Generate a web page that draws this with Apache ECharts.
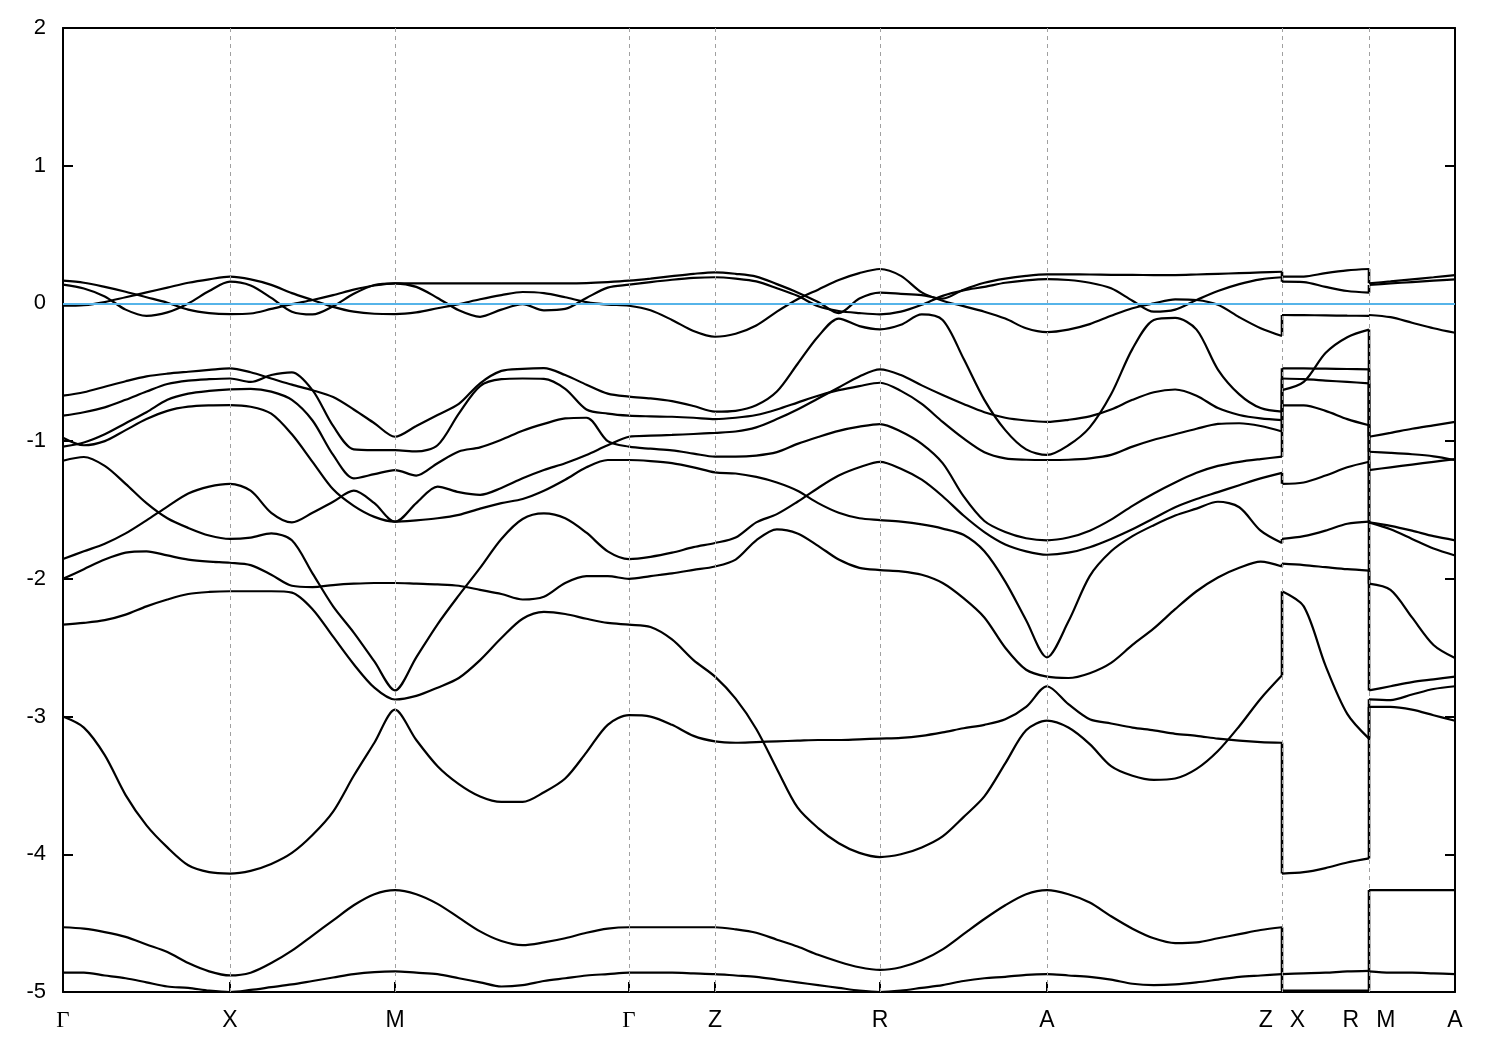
<!DOCTYPE html>
<html><head><meta charset="utf-8">
<script src="https://cdn.jsdelivr.net/npm/echarts@6/dist/echarts.min.js"></script>
<style>html,body{margin:0;padding:0;background:#fff}#chart{width:1500px;height:1050px}</style>
</head><body><div id="chart"></div>
<script>
// ---- k-path: high-symmetry points (cumulative path length, arbitrary units) ----
const kTicks = [0, 1.67, 3.32, 5.66, 6.52, 8.17, 9.84, 12.19, 13.06, 13.92];
const tickLabels = ['Γ', 'X', 'M', 'Γ', 'Z', 'R', 'A', 'Z|X', 'R|M', 'A'];
// segments: [from tick, to tick, number of k-steps, starts a new (discontinuous) branch]
const segments = [[0,1,8,false],[1,2,8,false],[2,3,11,false],[3,4,4,false],[4,5,8,false],
                  [5,6,8,false],[6,7,11,false],[7,8,4,true],[8,9,4,true]];
const fermiLevel = 0;

// ---- band energies (eV) at every k-point of the path, segment by segment ----
const band01 = [-4.86,-4.86,-4.88,-4.90,-4.93,-4.96,-4.97,-4.99,-5.0,
  -4.985,-4.965,-4.945,-4.92,-4.895,-4.87,-4.855,-4.85,
  -4.86,-4.87,-4.90,-4.93,-4.96,-4.95,-4.92,-4.90,-4.88,-4.87,-4.86,
  -4.86,-4.86,-4.865,-4.87,
  -4.88,-4.89,-4.91,-4.93,-4.95,-4.97,-4.99,-5.0,
  -4.99,-4.97,-4.95,-4.92,-4.90,-4.89,-4.875,-4.87,
  -4.88,-4.89,-4.91,-4.94,-4.95,-4.945,-4.93,-4.91,-4.89,-4.88,-4.87,
  -4.99,-4.99,-4.99,-4.99,-4.99,
  -4.85,-4.86,-4.86,-4.865,-4.87];
const band02 = [-4.53,-4.54,-4.565,-4.60,-4.655,-4.71,-4.79,-4.85,-4.88,
  -4.86,-4.79,-4.70,-4.59,-4.48,-4.37,-4.29,-4.26,
  -4.29,-4.36,-4.46,-4.56,-4.63,-4.66,-4.64,-4.61,-4.57,-4.54,-4.53,
  -4.53,-4.53,-4.53,-4.53,
  -4.545,-4.57,-4.62,-4.67,-4.73,-4.78,-4.82,-4.84,
  -4.82,-4.77,-4.69,-4.58,-4.47,-4.37,-4.29,-4.26,
  -4.29,-4.35,-4.45,-4.54,-4.61,-4.645,-4.64,-4.61,-4.58,-4.55,-4.53,
  -4.87,-4.865,-4.86,-4.85,-4.846,
  -4.26,-4.26,-4.26,-4.26,-4.26];
const band03 = [-3.0,-3.08,-3.28,-3.57,-3.79,-3.95,-4.08,-4.13,-4.14,
  -4.12,-4.07,-3.99,-3.86,-3.69,-3.43,-3.19,-2.95,
  -3.17,-3.36,-3.49,-3.58,-3.62,-3.62,-3.55,-3.45,-3.26,-3.06,-2.99,
  -3.0,-3.06,-3.14,-3.18,
  -3.19,-3.185,-3.18,-3.175,-3.17,-3.17,-3.165,-3.16,
  -3.155,-3.14,-3.115,-3.085,-3.06,-3.02,-2.93,-2.78,
  -2.91,-3.02,-3.05,-3.08,-3.10,-3.125,-3.14,-3.16,-3.175,-3.185,-3.19,
  -4.14,-4.13,-4.10,-4.06,-4.03,
  -2.93,-2.93,-2.95,-2.99,-3.03];
const band04 = [-2.333,-2.32,-2.30,-2.26,-2.20,-2.15,-2.11,-2.095,-2.09,
  -2.09,-2.09,-2.10,-2.22,-2.42,-2.62,-2.79,-2.876,
  -2.85,-2.79,-2.72,-2.59,-2.43,-2.29,-2.24,-2.255,-2.29,-2.32,-2.333,
  -2.35,-2.44,-2.59,-2.71,
  -2.87,-3.09,-3.38,-3.66,-3.81,-3.92,-3.99,-4.02,
  -4.0,-3.95,-3.87,-3.73,-3.58,-3.34,-3.10,-3.03,
  -3.08,-3.20,-3.36,-3.43,-3.46,-3.45,-3.38,-3.25,-3.07,-2.87,-2.70,
  -2.09,-2.20,-2.63,-2.98,-3.16,
  -2.875,-2.88,-2.84,-2.80,-2.78];
const band05 = [-2.0,-1.93,-1.86,-1.81,-1.80,-1.83,-1.86,-1.875,-1.883,
  -1.90,-1.97,-2.05,-2.06,-2.045,-2.035,-2.03,-2.03,
  -2.035,-2.04,-2.05,-2.08,-2.11,-2.15,-2.13,-2.03,-1.98,-1.98,-2.0,
  -1.98,-1.96,-1.935,-1.91,
  -1.86,-1.72,-1.64,-1.67,-1.76,-1.86,-1.92,-1.936,
  -1.945,-1.97,-2.03,-2.14,-2.28,-2.50,-2.66,-2.71,
  -2.72,-2.685,-2.61,-2.48,-2.36,-2.22,-2.09,-1.99,-1.92,-1.875,-1.91,
  -1.89,-1.90,-1.915,-1.93,-1.94,
  -2.81,-2.78,-2.75,-2.73,-2.71];
const band06 = [-1.856,-1.80,-1.745,-1.67,-1.575,-1.475,-1.38,-1.33,-1.31,
  -1.36,-1.52,-1.59,-1.52,-1.44,-1.36,-1.45,-1.585,
  -1.575,-1.56,-1.535,-1.49,-1.45,-1.42,-1.36,-1.28,-1.19,-1.137,-1.137,
  -1.145,-1.16,-1.19,-1.227,
  -1.235,-1.26,-1.30,-1.36,-1.45,-1.52,-1.56,-1.573,
  -1.585,-1.605,-1.635,-1.68,-1.80,-2.02,-2.30,-2.57,
  -2.31,-1.98,-1.80,-1.69,-1.61,-1.54,-1.49,-1.44,-1.48,-1.65,-1.74,
  -1.71,-1.69,-1.65,-1.60,-1.585,
  -2.035,-2.08,-2.28,-2.48,-2.575];
const band07 = [-1.142,-1.115,-1.18,-1.31,-1.45,-1.56,-1.63,-1.685,-1.71,
  -1.70,-1.67,-1.72,-1.96,-2.20,-2.39,-2.60,-2.81,
  -2.57,-2.33,-2.12,-1.92,-1.71,-1.565,-1.525,-1.56,-1.665,-1.80,-1.856,
  -1.84,-1.81,-1.77,-1.74,
  -1.70,-1.59,-1.53,-1.44,-1.34,-1.25,-1.19,-1.15,
  -1.20,-1.28,-1.40,-1.54,-1.66,-1.75,-1.80,-1.825,
  -1.81,-1.77,-1.71,-1.64,-1.56,-1.48,-1.42,-1.37,-1.32,-1.27,-1.23,
  -1.31,-1.30,-1.25,-1.19,-1.15,
  -1.59,-1.615,-1.65,-1.69,-1.72];
const band08 = [-1.04,-1.01,-0.95,-0.87,-0.79,-0.70,-0.655,-0.635,-0.624,
  -0.62,-0.64,-0.70,-0.85,-1.10,-1.27,-1.24,-1.21,
  -1.25,-1.16,-1.075,-1.045,-0.99,-0.925,-0.875,-0.835,-0.83,-1.0,-1.04,
  -1.055,-1.067,-1.09,-1.113,
  -1.113,-1.105,-1.08,-1.02,-0.97,-0.925,-0.895,-0.876,
  -0.93,-1.02,-1.16,-1.40,-1.58,-1.66,-1.705,-1.72,
  -1.70,-1.65,-1.57,-1.47,-1.38,-1.30,-1.23,-1.18,-1.15,-1.13,-1.113,
  -0.74,-0.74,-0.78,-0.84,-0.885,
  -1.59,-1.64,-1.71,-1.78,-1.83];
const band09 = [-0.975,-1.03,-1.0,-0.92,-0.84,-0.78,-0.75,-0.74,-0.738,
  -0.75,-0.80,-0.95,-1.15,-1.35,-1.47,-1.55,-1.585,
  -1.45,-1.33,-1.37,-1.39,-1.34,-1.27,-1.21,-1.16,-1.10,-1.03,-0.968,
  -0.96,-0.955,-0.948,-0.94,
  -0.93,-0.90,-0.84,-0.77,-0.69,-0.61,-0.53,-0.479,
  -0.52,-0.595,-0.665,-0.73,-0.79,-0.83,-0.85,-0.86,
  -0.845,-0.82,-0.77,-0.70,-0.645,-0.625,-0.67,-0.76,-0.81,-0.835,-0.847,
  -0.545,-0.55,-0.56,-0.57,-0.58,
  -1.21,-1.19,-1.17,-1.15,-1.13];
const band10 = [-0.815,-0.79,-0.755,-0.70,-0.64,-0.585,-0.56,-0.55,-0.545,
  -0.57,-0.52,-0.50,-0.63,-0.89,-1.06,-1.065,-1.065,
  -1.075,-1.03,-0.80,-0.60,-0.55,-0.545,-0.548,-0.62,-0.77,-0.80,-0.815,
  -0.82,-0.823,-0.83,-0.84,
  -0.83,-0.81,-0.77,-0.72,-0.67,-0.63,-0.60,-0.576,
  -0.635,-0.73,-0.86,-0.98,-1.08,-1.125,-1.135,-1.137,
  -1.135,-1.125,-1.10,-1.04,-0.99,-0.95,-0.91,-0.875,-0.87,-0.89,-0.93,
  -0.63,-0.57,-0.36,-0.245,-0.19,
  -0.968,-0.94,-0.91,-0.885,-0.86];
const band11 = [-0.67,-0.645,-0.605,-0.565,-0.53,-0.51,-0.496,-0.483,-0.471,
  -0.50,-0.545,-0.59,-0.63,-0.68,-0.77,-0.87,-0.968,
  -0.89,-0.81,-0.73,-0.58,-0.49,-0.475,-0.47,-0.52,-0.59,-0.655,-0.677,
  -0.69,-0.71,-0.745,-0.786,
  -0.78,-0.74,-0.64,-0.44,-0.24,-0.11,-0.165,-0.188,
  -0.155,-0.08,-0.12,-0.40,-0.70,-0.92,-1.06,-1.10,
  -1.03,-0.90,-0.66,-0.33,-0.12,-0.105,-0.19,-0.48,-0.66,-0.76,-0.786,
  -0.471,-0.472,-0.474,-0.476,-0.479,
  -1.077,-1.085,-1.095,-1.11,-1.137];
const band12 = [-0.017,-0.013,0.01,0.045,0.08,0.115,0.15,0.175,0.194,
  0.175,0.135,0.075,0.025,-0.025,-0.06,-0.075,-0.077,
  -0.065,-0.035,-0.005,0.03,0.06,0.083,0.075,0.045,0.01,-0.008,-0.017,
  -0.05,-0.12,-0.20,-0.242,
  -0.22,-0.16,-0.06,0.03,0.10,0.17,0.22,0.25,
  0.20,0.08,0.02,-0.02,-0.06,-0.11,-0.18,-0.208,
  -0.19,-0.15,-0.09,-0.035,0.0,0.03,0.025,-0.01,-0.10,-0.18,-0.237,
  -0.084,-0.085,-0.087,-0.089,-0.09,
  -0.084,-0.10,-0.14,-0.18,-0.213];
const band13 = [0.136,0.108,0.05,-0.045,-0.09,-0.065,0.0,0.09,0.158,
  0.13,0.04,-0.06,-0.08,-0.02,0.07,0.134,0.146,
  0.12,0.04,-0.05,-0.097,-0.045,-0.005,-0.05,-0.04,0.04,0.115,0.136,
  0.155,0.172,0.185,0.19,
  0.18,0.16,0.11,0.055,-0.02,-0.055,-0.07,-0.079,
  -0.06,-0.01,0.055,0.095,0.12,0.15,0.168,0.177,
  0.17,0.15,0.11,0.02,-0.06,-0.045,0.025,0.09,0.14,0.175,0.19,
  0.158,0.155,0.12,0.09,0.078,
  0.134,0.145,0.155,0.165,0.175];
const band14 = [0.165,0.15,0.12,0.085,0.045,0.005,-0.045,-0.07,-0.077,
  -0.073,-0.04,-0.005,0.025,0.06,0.10,0.13,0.146,
  0.146,0.146,0.146,0.146,0.145,0.145,0.146,0.146,0.148,0.155,0.165,
  0.18,0.198,0.215,0.226,
  0.215,0.195,0.14,0.08,0.01,-0.07,0.035,0.078,
  0.07,0.06,0.035,0.10,0.15,0.18,0.20,0.211,
  0.211,0.21,0.208,0.207,0.206,0.206,0.21,0.215,0.22,0.225,0.23,
  0.194,0.195,0.22,0.24,0.25,
  0.146,0.16,0.175,0.19,0.206];
const bands = [band01,band02,band03,band04,band05,band06,band07,band08,band09,band10,band11,band12,band13,band14];

// ---- build the k grid from the path definition ----
const kGrid = [];
const branchStarts = [0];
segments.forEach(([a, b, n, jump], si) => {
  if (jump) branchStarts.push(kGrid.length);
  for (let j = 0; j <= n; j++) {
    if (j === 0 && si > 0 && !jump) continue;
    kGrid.push(kTicks[a] + (kTicks[b] - kTicks[a]) * j / n);
  }
});
branchStarts.push(kGrid.length);

const labelOf = v => {
  const i = kTicks.findIndex(t => Math.abs(t - v) < 1e-6);
  if (i < 0) return '';
  const t = tickLabels[i];
  if (t === 'Γ') return '{g|Γ}';
  if (t.indexOf('|') > 0) { const p = t.split('|'); return '{t|' + p[0] + '}{s| }{t|' + p[1] + '}'; }
  return '{t|' + t + '}';
};

const black = '#000';
const bandStyle = { color: black, width: 2.2 };
const jumpStyle = { color: black, width: 2.6 };
const series = [];
// dashed guides at the interior high-symmetry points
series.push({
  type: 'line', data: [], silent: true, z: 1,
  markLine: { silent: true, symbol: 'none', label: { show: false }, animation: false,
    lineStyle: { color: '#a0a0a0', type: [4, 4], width: 1 },
    data: kTicks.slice(1, -1).map(k => ({ xAxis: k })) }
});
bands.forEach((b, bi) => {
  for (let p = 0; p + 1 < branchStarts.length; p++) {
    const s = branchStarts[p], e = branchStarts[p + 1];
    const pts = [];
    for (let i = s; i < e; i++) pts.push([kGrid[i], b[i]]);
    series.push({ type: 'line', name: 'band' + (bi + 1), data: pts, showSymbol: false,
      smooth: 0.3, clip: true, z: 3, silent: true, lineStyle: bandStyle });
    if (p > 0) {
      // vertical connection across the path discontinuity
      series.push({ type: 'line', data: [[kGrid[s - 1], b[s - 1]], [kGrid[s], b[s]]], showSymbol: false,
        smooth: false, clip: true, z: 3, silent: true, lineStyle: jumpStyle });
    }
  }
});
// Fermi level
series.push({
  type: 'line', data: [], silent: true, z: 5,
  markLine: { silent: true, symbol: 'none', label: { show: false }, animation: false,
    lineStyle: { color: '#56b4e9', type: 'solid', width: 2 },
    data: [{ yAxis: fermiLevel }] }
});

const axisLineStyle = { color: black, width: 2 };
const chart = echarts.init(document.getElementById('chart'), null, { renderer: 'canvas' });
chart.setOption({
  animation: false,
  backgroundColor: '#fff',
  grid: { left: 63, right: 45, top: 28, bottom: 58 },
  xAxis: [{
    type: 'value', min: kTicks[0], max: kTicks[kTicks.length - 1], position: 'bottom',
    axisLine: { show: true, onZero: false, lineStyle: axisLineStyle },
    axisTick: { show: true, inside: true, length: 10, customValues: kTicks.slice(1, -1), lineStyle: axisLineStyle },
    axisLabel: { show: true, customValues: kTicks, margin: 17, formatter: labelOf,
      rich: {
        t: { fontFamily: '"Liberation Sans Narrow", "Liberation Sans", Arial, sans-serif', fontSize: 23, color: black },
        g: { fontFamily: '"Liberation Serif", "DejaVu Serif", serif', fontSize: 23, color: black },
        s: { width: 17 }
      } },
    splitLine: { show: false }
  }, {
    type: 'value', min: kTicks[0], max: kTicks[kTicks.length - 1], position: 'top',
    axisLine: { show: true, onZero: false, lineStyle: axisLineStyle },
    axisTick: { show: false }, axisLabel: { show: false }, splitLine: { show: false }
  }],
  yAxis: [{
    type: 'value', min: -5, max: 2, interval: 1, position: 'left',
    axisLine: { show: true, onZero: false, lineStyle: axisLineStyle },
    axisTick: { show: true, inside: true, length: 10, lineStyle: axisLineStyle },
    axisLabel: { color: black, fontSize: 22, fontFamily: '"Liberation Sans", Arial, sans-serif', margin: 17 },
    splitLine: { show: false }
  }, {
    type: 'value', min: -5, max: 2, interval: 1, position: 'right',
    axisLine: { show: true, onZero: false, lineStyle: axisLineStyle },
    axisTick: { show: true, inside: true, length: 10, lineStyle: axisLineStyle },
    axisLabel: { show: false }, splitLine: { show: false }
  }],
  series: series
});
</script>
</body></html>
